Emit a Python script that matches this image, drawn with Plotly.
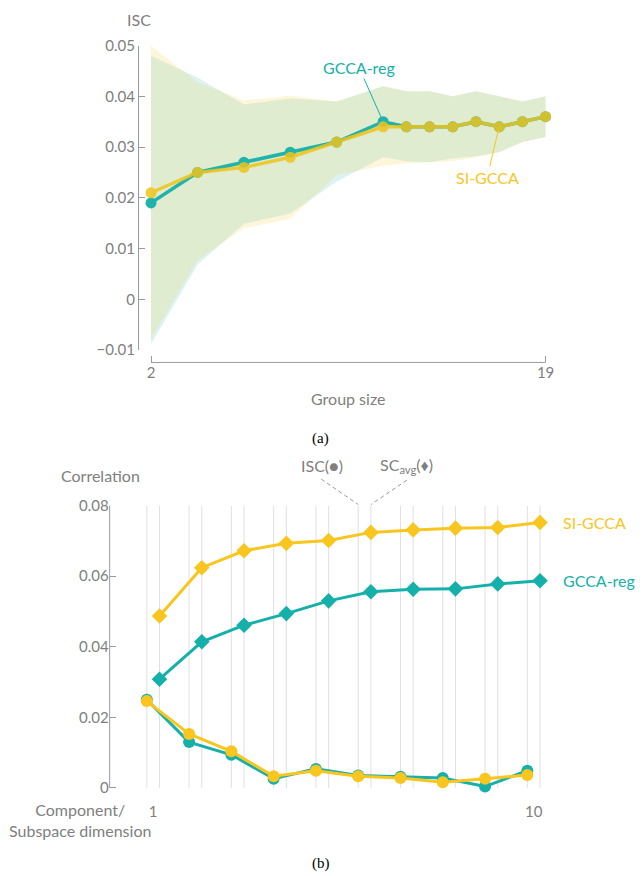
import plotly.graph_objects as go

# ---------------- data: panel (a) ----------------
group_sizes = [2, 4, 6, 8, 10, 12, 13, 14, 15, 16, 17, 18, 19]
isc_gcca_reg = [0.019, 0.025, 0.027, 0.029, 0.031, 0.035, 0.034, 0.034, 0.034, 0.035, 0.034, 0.035, 0.036]
isc_si_gcca = [0.021, 0.025, 0.026, 0.028, 0.031, 0.034, 0.034, 0.034, 0.034, 0.035, 0.034, 0.035, 0.036]
upper_gcca_reg = [0.048, 0.0437, 0.0384, 0.0396, 0.039, 0.042, 0.041, 0.041, 0.040, 0.041, 0.040, 0.039, 0.040]
upper_si_gcca = [0.050, 0.0428, 0.0392, 0.0401, 0.039, 0.042, 0.041, 0.041, 0.040, 0.041, 0.040, 0.039, 0.040]
lower_gcca_reg = [-0.0088, 0.0068, 0.0149, 0.0169, 0.0232, 0.0280, 0.0272, 0.0270, 0.0278, 0.0282, 0.0290, 0.0310, 0.0320]
lower_si_gcca = [-0.0078, 0.0077, 0.0140, 0.0159, 0.0245, 0.0263, 0.0268, 0.0270, 0.0272, 0.0280, 0.0290, 0.0310, 0.0320]
a_yticks = [-0.01, 0, 0.01, 0.02, 0.03, 0.04, 0.05]
a_yticktext = ["\u22120.01", "0", "0.01", "0.02", "0.03", "0.04", "0.05"]
a_xticks = [2, 19]

# ---------------- data: panel (b) ----------------
components = [1, 2, 3, 4, 5, 6, 7, 8, 9, 10]
b_isc_gcca_reg = [0.0250, 0.0130, 0.0094, 0.0026, 0.0054, 0.0035, 0.0032, 0.0028, 0.0004, 0.0049]
b_isc_si_gcca = [0.0246, 0.0153, 0.0104, 0.0033, 0.0049, 0.0033, 0.0028, 0.0016, 0.0026, 0.0037]
b_sc_gcca_reg = [0.0308, 0.0414, 0.0461, 0.0494, 0.0530, 0.0556, 0.0563, 0.0564, 0.0578, 0.0587]
b_sc_si_gcca = [0.0487, 0.0624, 0.0672, 0.0693, 0.0701, 0.0724, 0.0731, 0.0736, 0.0738, 0.0752]
b_yticks = [0, 0.02, 0.04, 0.06, 0.08]
b_yticktext = ["0", "0.02", "0.04", "0.06", "0.08"]
b_xticks = [1, 10]

# ---------------- style ----------------
TEAL = "#16b0aa"
YELLOW = "#f8c61e"
GRAY = "#808080"
AXIS = "#9a9a9a"
GRID = "#e0e0e0"
FONT = "Lato"
OFF = 0.15  # circle / diamond offset around each component
W, H = 644, 876

# vertical layout helper (pixel row -> figure row), with a mild stretch about the middle
S, Y0 = 0.976, 437.0
def py(y):
    return min(max(Y0 + (y - Y0) / S, 10.0), 871.0)
def pf(y):
    return 1 - py(y) / H

fig = go.Figure()

# ---- panel (a) bands ----
def band(lo, hi, fillcolor):
    fig.add_trace(go.Scatter(x=group_sizes, y=lo, mode="lines", line=dict(width=0),
                             hoverinfo="skip", showlegend=False, xaxis="x", yaxis="y"))
    fig.add_trace(go.Scatter(x=group_sizes, y=hi, mode="lines", line=dict(width=0),
                             fill="tonexty", fillcolor=fillcolor,
                             hoverinfo="skip", showlegend=False, xaxis="x", yaxis="y"))

band(lower_gcca_reg, upper_gcca_reg, "rgba(22,176,170,0.15)")
band(lower_si_gcca, upper_si_gcca, "rgba(245,197,24,0.16)")

fig.add_trace(go.Scatter(x=group_sizes, y=isc_gcca_reg, mode="lines+markers",
                         line=dict(color=TEAL, width=3.5), marker=dict(color=TEAL, size=11),
                         opacity=0.95, cliponaxis=False, showlegend=False, xaxis="x", yaxis="y"))
fig.add_trace(go.Scatter(x=group_sizes, y=isc_si_gcca, mode="lines+markers",
                         line=dict(color="#f0c41c", width=3.5), marker=dict(color="#f0c41c", size=11),
                         opacity=0.85, cliponaxis=False, showlegend=False, xaxis="x", yaxis="y"))

# ---- panel (b) ----
circ_x = [c - OFF for c in components]
diam_x = [c + OFF for c in components]

fig.add_trace(go.Scatter(x=circ_x, y=b_isc_gcca_reg, mode="lines+markers",
                         line=dict(color=TEAL, width=3), marker=dict(color=TEAL, size=12),
                         cliponaxis=False, showlegend=False, xaxis="x2", yaxis="y2"))
fig.add_trace(go.Scatter(x=circ_x, y=b_isc_si_gcca, mode="lines+markers",
                         line=dict(color=YELLOW, width=3), marker=dict(color=YELLOW, size=12),
                         cliponaxis=False, showlegend=False, xaxis="x2", yaxis="y2"))
fig.add_trace(go.Scatter(x=diam_x, y=b_sc_gcca_reg, mode="lines+markers",
                         line=dict(color=TEAL, width=3), marker=dict(color=TEAL, size=12, symbol="diamond"),
                         cliponaxis=False, showlegend=False, xaxis="x2", yaxis="y2"))
fig.add_trace(go.Scatter(x=diam_x, y=b_sc_si_gcca, mode="lines+markers",
                         line=dict(color=YELLOW, width=3), marker=dict(color=YELLOW, size=12, symbol="diamond"),
                         cliponaxis=False, showlegend=False, xaxis="x2", yaxis="y2"))

# panel (a) vertical geometry
A_TOP, A_BOT = py(46.0), py(349.3)          # rows of 0.05 and -0.01
A_YDOM = [1 - A_BOT / H, 1 - A_TOP / H]
A_XPOS = pf(361.7)
a_px_per = (A_BOT - A_TOP) / (a_yticks[-1] - a_yticks[0])
def a_row(v):
    return A_TOP + (a_yticks[-1] - v) * a_px_per

# panel (b) vertical geometry
B_TOP, B_ZERO = py(504.3), py(785.7)        # rows of 0.08 and 0
B_LOW = -0.003
b_px_per = (B_ZERO - B_TOP) / (b_yticks[-1] - b_yticks[0])
B_BOT = B_ZERO - B_LOW * b_px_per
B_YDOM = [1 - B_BOT / H, 1 - B_TOP / H]

shapes = []
# vertical grid lines in (b)
for c in components:
    for xv in (c - OFF, c + OFF):
        shapes.append(dict(type="line", xref="x2", yref="y2", x0=xv, x1=xv,
                           y0=b_yticks[0], y1=b_yticks[-1], line=dict(color=GRID, width=1), layer="below"))
# y axis line for (b)
shapes.append(dict(type="line", xref="x2 domain", yref="y2", x0=0, x1=0,
                   y0=b_yticks[0], y1=b_yticks[-1], line=dict(color=AXIS, width=1)))
# x axis line for (a), offset below the plot
shapes.append(dict(type="line", xref="x", yref="paper", x0=min(group_sizes), x1=max(group_sizes),
                   y0=A_XPOS, y1=A_XPOS, line=dict(color=AXIS, width=1)))
# dashed pointer lines to the 6th component grid pair
k = 5
dash_h = B_TOP - py(478.5)
shapes.append(dict(type="line", xref="x2", yref="paper", xsizemode="pixel", ysizemode="pixel",
                   xanchor=components[k] - OFF, yanchor=B_YDOM[1], x0=-37, x1=0, y0=dash_h, y1=1,
                   line=dict(color=AXIS, width=1, dash="4px,3px")))
shapes.append(dict(type="line", xref="x2", yref="paper", xsizemode="pixel", ysizemode="pixel",
                   xanchor=components[k] + OFF, yanchor=B_YDOM[1], x0=36, x1=0, y0=dash_h - 1, y1=1,
                   line=dict(color=AXIS, width=1, dash="4px,3px")))

tf = dict(family=FONT, size=15, color=GRAY)
lf = dict(family=FONT, size=16, color=GRAY)
C = dict(xanchor="center", yanchor="middle", showarrow=False)
i_g, i_s = 5, 10
annotations = [
    dict(text="ISC", xref="x domain", yref="paper", x=0, y=pf(18), font=lf, **C),
    dict(text="Group size", xref="x", yref="paper", x=(min(group_sizes) + max(group_sizes)) / 2,
         y=pf(398), font=lf, **C),
    dict(text="(a)", xref="paper", yref="paper", x=321 / W, y=pf(437),
         font=dict(family="Liberation Serif", size=15, color="black"), **C),
    dict(text="GCCA-reg", xref="x", yref="y", x=group_sizes[i_g], y=isc_gcca_reg[i_g], ax=-24,
         ay=py(69) - a_row(isc_gcca_reg[i_g]),
         showarrow=True, arrowhead=0, arrowwidth=1, arrowcolor=TEAL, standoff=3,
         xanchor="center", yanchor="middle", font=dict(family=FONT, size=16, color=TEAL)),
    dict(text="SI-GCCA", xref="x", yref="y", x=group_sizes[i_s], y=isc_si_gcca[i_s], ax=-12,
         ay=py(176) - a_row(isc_si_gcca[i_s]),
         showarrow=True, arrowhead=0, arrowwidth=1, arrowcolor=YELLOW, standoff=0,
         xanchor="center", yanchor="middle", font=dict(family=FONT, size=16, color=YELLOW)),
    dict(text="Correlation", xref="paper", yref="paper", x=100.7 / W, y=pf(474), font=lf, **C),
    dict(text="ISC(\u25CF)", xref="paper", yref="paper", x=323 / W, y=pf(464), font=lf, **C),
    dict(text="SC<sub>avg</sub>(\u2666)", xref="paper", yref="paper", x=407.5 / W, y=pf(464),
         font=lf, **C),
    dict(text="SI-GCCA", xref="x2", yref="y2", x=diam_x[-1], y=b_sc_si_gcca[-1], xshift=21,
         xanchor="left", yanchor="middle", showarrow=False, font=dict(family=FONT, size=16, color=YELLOW)),
    dict(text="GCCA-reg", xref="x2", yref="y2", x=diam_x[-1], y=b_sc_gcca_reg[-1], xshift=21,
         xanchor="left", yanchor="middle", showarrow=False, font=dict(family=FONT, size=16, color=TEAL)),
    dict(text="Component/<br>Subspace dimension", xref="paper", yref="paper", x=80 / W, y=pf(818),
         align="center", font=lf, **C),
    dict(text="(b)", xref="paper", yref="paper", x=322 / W, y=pf(868),
         font=dict(family="Liberation Serif", size=15, color="black"), **C),
]

fig.update_layout(
    width=W, height=H, autosize=False,
    margin=dict(l=0, r=0, t=0, b=0, pad=0),
    paper_bgcolor="white", plot_bgcolor="white",
    showlegend=False, hovermode=False,
    font=dict(family=FONT, size=15, color=GRAY),
    xaxis=dict(domain=[0.2163, 0.8607], range=[1.476, 19.3], anchor="free", position=A_XPOS,
               tickvals=a_xticks, ticks="inside", ticklen=6, tickcolor=AXIS,
               showline=False, showgrid=False, zeroline=False, tickfont=tf),
    yaxis=dict(domain=A_YDOM, range=[a_yticks[0], a_yticks[-1]], anchor="x",
               tickvals=a_yticks, ticktext=a_yticktext, ticks="inside", ticklen=6, tickcolor=AXIS,
               showline=True, linecolor=AXIS, linewidth=1, showgrid=False, zeroline=False,
               tickfont=tf, ticklabelstandoff=0),
    xaxis2=dict(domain=[0.1708, 0.8576], range=[-0.029, 10.4], anchor="y2",
                tickvals=b_xticks, ticks="", showline=False, showgrid=False, zeroline=False,
                tickfont=tf, ticklabelstandoff=2),
    yaxis2=dict(domain=B_YDOM, range=[B_LOW, b_yticks[-1]], anchor="x2",
                tickvals=b_yticks, ticktext=b_yticktext, ticks="inside", ticklen=6, tickcolor=AXIS,
                showline=False, showgrid=False, zeroline=False, tickfont=tf, ticklabelstandoff=0),
    shapes=shapes,
    annotations=annotations,
)

post = (
    "document.documentElement.style.margin='0';"
    "document.body.style.margin='0';document.body.style.padding='0';"
    "var gd=document.getElementById('{plot_id}');"
    "gd.style.position='fixed';gd.style.left='0px';gd.style.top='0px';"
)
fig.write_html("out.html", config={"displayModeBar": False, "staticPlot": True}, post_script=post)
